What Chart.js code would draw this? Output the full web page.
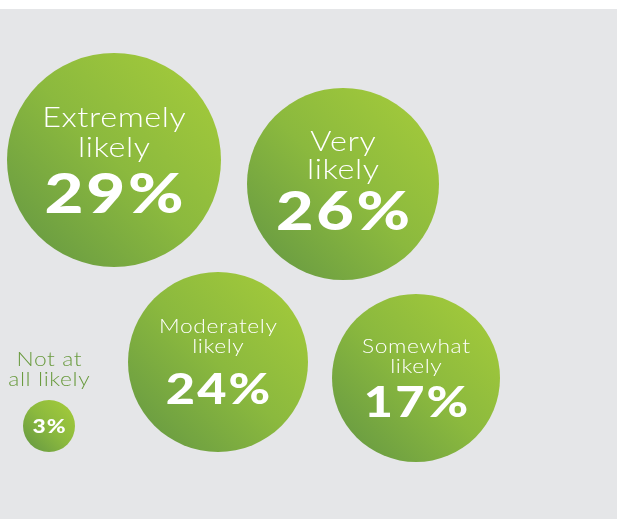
<!DOCTYPE html>
<html>
<head>
<meta charset="utf-8">
<script src="https://cdn.jsdelivr.net/npm/chart.js@4.4.1/dist/chart.umd.min.js"></script>
<style>
    html, body { margin: 0; padding: 0; background: #fff; }
    #wrap { width: 617px; height: 519px; position: relative; }
</style>
</head>
<body>
<div id="wrap"><canvas id="likely_bubbles"></canvas></div>
<script>
// survey answers, one bubble each
var categories = [
    ["Extremely", "likely"],
    ["Very", "likely"],
    ["Moderately", "likely"],
    ["Somewhat", "likely"],
    ["Not at", "all likely"]
];
var percents = [29, 26, 24, 17, 3];

// where each bubble sits on the page and how its text is set
// (x, y, r in px; dy = line offsets from centre; fonts in px)
var layout = [
    { x: 114, y: 160, r: 107, dy: [-42, -12], vy: 35, lf: 27, vf: 56, outside: false },
    { x: 343, y: 184, r: 96,  dy: [-42, -14], vy: 29, lf: 27, vf: 54, outside: false },
    { x: 218, y: 362, r: 90,  dy: [-35, -15], vy: 28, lf: 19, vf: 42, outside: false },
    { x: 416, y: 378, r: 84,  dy: [-31, -11], vy: 25, lf: 19, vf: 42, outside: false },
    { x: 49,  y: 426, r: 26,  dy: [-66, -46], vy: 1,  lf: 19, vf: 19, outside: true }
];

var points = [];
for (var i in percents) {
    points.push({ x: layout[i].x, y: layout[i].y, r: layout[i].r, v: percents[i] });
}

// each bubble gets its own light-to-dark diagonal gradient
function bubbleFill(ctx) {
    var chart = ctx.chart;
    var p = layout[ctx.dataIndex];
    if (!chart.chartArea || !p) return "#8cbb3e";
    var cx = chart.scales.x.getPixelForValue(p.x);
    var cy = chart.scales.y.getPixelForValue(p.y);
    var g = chart.ctx.createLinearGradient(cx - p.r * 0.75, cy + p.r * 0.75, cx + p.r * 0.75, cy - p.r * 0.75);
    g.addColorStop(0, "#6c9e42");
    g.addColorStop(0.5, "#8bb93e");
    g.addColorStop(1, "#a0c83b");
    return g;
}

var panelBg = {
    id: "panelBg",
    beforeDraw: function(chart) {
        var c = chart.ctx;
        c.save();
        c.fillStyle = "#ffffff";
        c.fillRect(0, 0, chart.width, chart.height);
        c.fillStyle = "#e5e6e8";
        c.fillRect(0, 9, chart.width, chart.height - 9);
        c.restore();
    }
};

// Lato stretched sideways gives the wide geometric look of the labels
function wideText(c, text, x, y, sx, spacing) {
    c.save();
    c.translate(x, y);
    c.scale(sx, 1);
    c.letterSpacing = spacing + "px";
    c.fillText(text, spacing / 2, 0);
    c.restore();
}

var bubbleText = {
    id: "bubbleText",
    afterDatasetsDraw: function(chart) {
        var c = chart.ctx;
        var meta = chart.getDatasetMeta(0);
        c.save();
        c.textAlign = "center";
        c.textBaseline = "middle";
        meta.data.forEach(function(el, i) {
            var p = layout[i];
            c.fillStyle = p.outside ? "#6a9b3f" : "#ffffff";
            c.font = "300 " + p.lf + "px Lato, 'Open Sans', sans-serif";
            categories[i].forEach(function(line, k) {
                wideText(c, line, el.x, el.y + p.dy[k], 1.2, 0.5);
            });
            c.fillStyle = "#ffffff";
            c.font = "900 " + p.vf + "px Lato, 'Open Sans', sans-serif";
            wideText(c, percents[i] + "%", el.x, el.y + p.vy, 1.2, p.vf / 24);
        });
        c.restore();
    }
};

var chartdata = {
    datasets: [{
        label: "Likelihood",
        data: points,
        backgroundColor: bubbleFill,
        hoverBackgroundColor: bubbleFill,
        borderWidth: 0,
        hoverBorderWidth: 0,
        hoverRadius: 0
    }]
};

var canvas = document.getElementById("likely_bubbles");

var likely_bubbles = new Chart(canvas, {
    type: "bubble",
    data: chartdata,
    options: {
        responsive: true,
        maintainAspectRatio: false,
        animation: false,
        layout: { padding: 0, autoPadding: false },
        clip: false,
        plugins: {
            legend: { display: false },
            tooltip: { enabled: false }
        },
        scales: {
            x: { type: "linear", min: 0, max: 617, display: false },
            y: { type: "linear", min: 0, max: 519, reverse: true, display: false }
        }
    },
    plugins: [panelBg, bubbleText]
});
</script>
</body>
</html>
